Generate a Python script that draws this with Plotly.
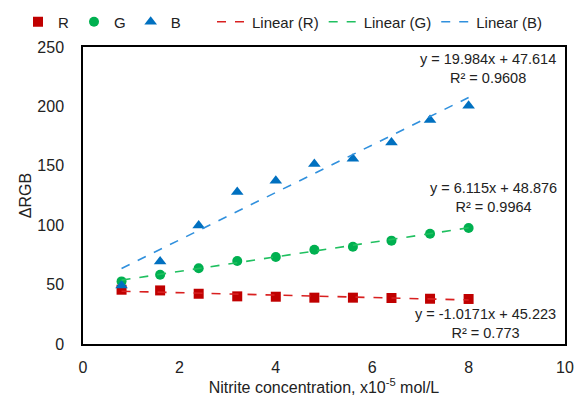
import numpy as np
import plotly.graph_objects as go

x = [0.8, 1.6, 2.4, 3.2, 4.0, 4.8, 5.6, 6.4, 7.2, 8.0]
r_vals = [45.7, 45.1, 42.3, 40.1, 39.8, 39.0, 39.0, 38.7, 38.1, 37.9]
g_vals = [52.7, 58.3, 63.7, 69.8, 73.2, 79.4, 81.9, 87.0, 92.8, 97.6]
b_vals = [49.3, 69.5, 99.8, 128.0, 137.5, 151.5, 156.0, 169.7, 188.5, 200.6]

# fitted trendline coefficients shown on chart
fit_r = (-1.0171, 45.223, 0.773)
fit_g = (6.115, 48.876, 0.9964)
fit_b = (19.984, 47.614, 0.9608)

FONT = "Arial, Liberation Sans, sans-serif"
red, green, blue = "#C00000", "#00B050", "#0070C0"
red_l, green_l, blue_l = "#D92020", "#20C060", "#3090DD"

fig = go.Figure()
xs = np.array([x[0], x[-1]])

fig.add_trace(go.Scatter(x=x, y=r_vals, mode="markers", name="R", legend="legend",
                         marker=dict(symbol="square", size=10, color=red)))
fig.add_trace(go.Scatter(x=x, y=g_vals, mode="markers", name="G", legend="legend",
                         marker=dict(symbol="circle", size=10, color=green)))
fig.add_trace(go.Scatter(x=x, y=b_vals, mode="markers", name="B", legend="legend",
                         marker=dict(symbol="triangle-up", size=11, color=blue)))
for name, fit, col in [("Linear (R)", fit_r, red_l), ("Linear (G)", fit_g, green_l),
                       ("Linear (B)", fit_b, blue_l)]:
    fig.add_trace(go.Scatter(x=xs, y=fit[0] * xs + fit[1], mode="lines", name=name,
                             legend="legend2",
                             line=dict(color=col, width=1.6, dash="dash")))

def fmt(fit):
    return f"y = {fit[0]}x + {fit[1]}<br>R² = {fit[2]}"

for fit, ax, ay in [(fit_b, 8.40, 231.5), (fit_g, 8.51, 123.6), (fit_r, 8.36, 17.1)]:
    fig.add_annotation(x=ax, y=ay, xref="x", yref="y", text=fmt(fit), showarrow=False,
                       align="center", xanchor="center", yanchor="middle",
                       font=dict(size=14.5, color="#222222", family=FONT))

leg_common = dict(orientation="h", xref="container", yref="container",
                  y=1 - 22 / 399, yanchor="middle", font=dict(size=15),
                  itemwidth=30, tracegroupgap=0, bgcolor="rgba(0,0,0,0)")

fig.update_layout(
    width=576, height=399,
    margin=dict(l=83, r=11, t=47, b=55, autoexpand=False),
    paper_bgcolor="white", plot_bgcolor="white",
    font=dict(family=FONT, size=16, color="#222222"),
    showlegend=True,
    legend=dict(x=18 / 576, xanchor="left", **leg_common),
    legend2=dict(x=548 / 576, xanchor="right", **leg_common),
    xaxis=dict(range=[0, 10], dtick=2, showgrid=False, zeroline=False,
               showline=True, linecolor="black", linewidth=1.5, mirror=True,
               ticks="", tickfont=dict(size=16), ticklabelstandoff=8,
               title=dict(text="Nitrite concentration, x10<sup>-5</sup> mol/L",
                          font=dict(size=16), standoff=6)),
    yaxis=dict(range=[0, 250], dtick=50, showgrid=False, zeroline=False,
               showline=True, linecolor="black", linewidth=1.5, mirror=True,
               ticks="", tickfont=dict(size=16), ticklabelstandoff=14,
               title=dict(text="ΔRGB", font=dict(size=16), standoff=2)),
)

fig.write_html("out.html", config={"displayModeBar": False},
               post_script="document.body.style.margin='0';document.body.style.padding='0';")
